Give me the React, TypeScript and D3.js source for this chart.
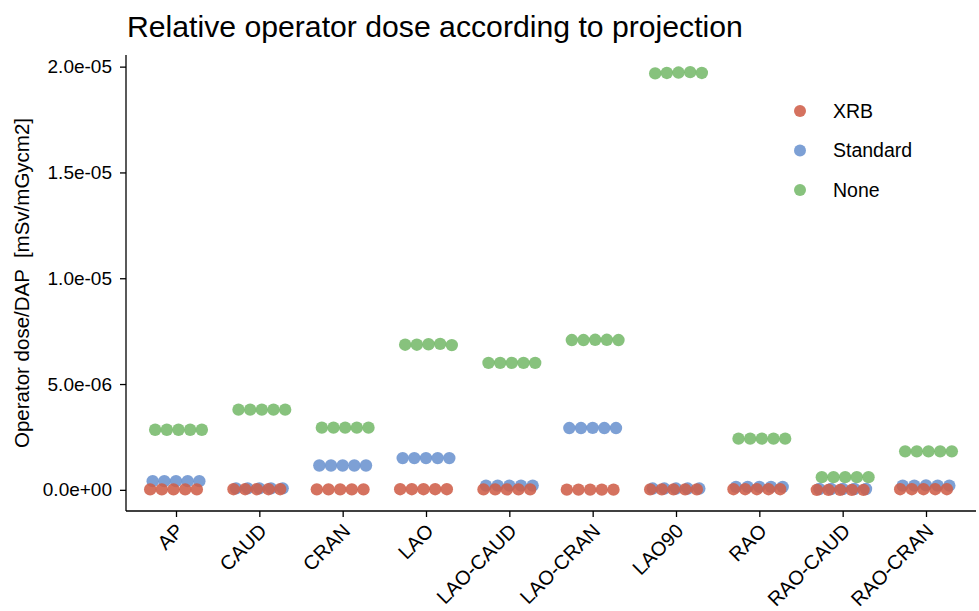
import * as d3 from "d3";
import { useEffect, useRef } from "react";

const WIDTH = 979;
const HEIGHT = 611;
const MARGIN = { top: 55, right: 3, bottom: 100, left: 126 };

const projections = [
  "AP", "CAUD", "CRAN", "LAO", "LAO-CAUD",
  "LAO-CRAN", "LAO90", "RAO", "RAO-CAUD", "RAO-CRAN",
];
const series = ["XRB", "Standard", "None"];
const colors = ["#CF5E49", "#6B93CF", "#76B96B"];

// five repeated measurements per projection, in 1e-6 mSv/mGycm2
const xrbValues = [
  [0.02, 0.02, 0.02, 0.02, 0.02],
  [0.03, 0.03, 0.03, 0.03, 0.03],
  [0.02, 0.02, 0.02, 0.02, 0.02],
  [0.03, 0.03, 0.03, 0.03, 0.03],
  [0.02, 0.02, 0.02, 0.02, 0.02],
  [0.01, 0.01, 0.01, 0.01, 0.01],
  [0.02, 0.02, 0.02, 0.02, 0.02],
  [0.03, 0.03, 0.03, 0.03, 0.03],
  [0.0, 0.0, 0.0, 0.0, 0.0],
  [0.03, 0.03, 0.03, 0.03, 0.03],
];
const standardValues = [
  [0.41, 0.41, 0.41, 0.41, 0.41],
  [0.07, 0.07, 0.07, 0.07, 0.07],
  [1.15, 1.15, 1.15, 1.15, 1.15],
  [1.5, 1.5, 1.5, 1.5, 1.5],
  [0.2, 0.2, 0.2, 0.2, 0.2],
  [2.92, 2.92, 2.93, 2.92, 2.92],
  [0.06, 0.06, 0.06, 0.06, 0.06],
  [0.14, 0.14, 0.14, 0.14, 0.14],
  [0.04, 0.04, 0.04, 0.04, 0.04],
  [0.2, 0.2, 0.21, 0.2, 0.2],
];
const noneValues = [
  [2.84, 2.84, 2.84, 2.84, 2.84],
  [3.79, 3.79, 3.79, 3.79, 3.79],
  [2.94, 2.94, 2.94, 2.94, 2.94],
  [6.86, 6.86, 6.88, 6.9, 6.84],
  [6.0, 6.0, 6.0, 6.0, 6.0],
  [7.08, 7.08, 7.09, 7.09, 7.08],
  [19.68, 19.7, 19.72, 19.74, 19.7],
  [2.42, 2.42, 2.42, 2.42, 2.42],
  [0.6, 0.6, 0.6, 0.6, 0.6],
  [1.82, 1.82, 1.82, 1.82, 1.82],
];
const yTicks = [0, 5e-6, 1e-5, 1.5e-5, 2e-5];
const yTickLabels = ["0.0e+00", "5.0e-06", "1.0e-05", "1.5e-05", "2.0e-05"];

const allSeries = [xrbValues, standardValues, noneValues];

interface Pt {
  cat: number;
  s: number;
  rep: number;
  value: number;
}

export default function App() {
  const ref = useRef<SVGSVGElement | null>(null);

  useEffect(() => {
    if (!ref.current) return;
    const svg = d3.select(ref.current);
    svg.selectAll("*").remove();

    const innerW = WIDTH - MARGIN.left - MARGIN.right;
    const innerH = HEIGHT - MARGIN.top - MARGIN.bottom;
    const font = "'Liberation Sans', Arial, sans-serif";

    const x = d3.scaleLinear().domain([-0.6, projections.length - 0.4]).range([0, innerW]);
    const y = d3.scaleLinear().domain([-1e-6, 2.055e-5]).range([innerH, 0]);
    const dodge = d3.scalePoint<number>().domain([0, 1, 2]).range([-0.03, 0.03]);
    const repOffset = d3.scalePoint<number>().domain([0, 1, 2, 3, 4]).range([-0.28, 0.28]);

    const pts: Pt[] = [];
    // draw None first, XRB last (on top)
    [2, 1, 0].forEach((s) => {
      allSeries[s].forEach((vals, cat) => {
        vals.forEach((v, rep) => pts.push({ cat, s, rep, value: v * 1e-6 }));
      });
    });

    svg
      .append("text")
      .attr("x", 127)
      .attr("y", 37)
      .attr("font-family", font)
      .attr("font-size", 30.2)
      .attr("fill", "#000")
      .text("Relative operator dose according to projection");

    const g = svg.append("g").attr("transform", `translate(${MARGIN.left},${MARGIN.top})`);

    g.append("g")
      .selectAll("circle")
      .data(pts)
      .join("circle")
      .attr("cx", (d) => x(d.cat + (dodge(d.s) ?? 0) + (repOffset(d.rep) ?? 0)))
      .attr("cy", (d) => y(d.value))
      .attr("r", 6.2)
      .attr("fill", (d) => colors[d.s])
      .attr("fill-opacity", 0.88);

    const yAxis = g
      .append("g")
      .call(
        d3
          .axisLeft(y)
          .tickValues(yTicks)
          .tickFormat((_, i) => yTickLabels[i])
          .tickSize(6)
          .tickPadding(8)
      );
    yAxis.select(".domain").attr("stroke-width", 1.3).attr("d", `M0,0V${innerH}`);
    yAxis.selectAll(".tick line").attr("stroke-width", 1.3);
    yAxis
      .selectAll(".tick text")
      .attr("font-family", font)
      .attr("font-size", 19)
      .attr("fill", "#000");

    const xAxis = g
      .append("g")
      .attr("transform", `translate(0,${innerH})`)
      .call(
        d3
          .axisBottom(x)
          .tickValues(d3.range(projections.length))
          .tickFormat((_, i) => projections[i])
          .tickSize(6)
      );
    xAxis.select(".domain").attr("stroke-width", 1.3).attr("d", `M0,0H${innerW}`);
    xAxis.selectAll(".tick line").attr("stroke-width", 1.3);
    xAxis
      .selectAll<SVGTextElement, unknown>(".tick text")
      .attr("font-family", font)
      .attr("font-size", 20)
      .attr("fill", "#000")
      .attr("text-anchor", "end")
      .attr("dy", null)
      .attr("y", 0)
      .attr("dominant-baseline", "hanging")
      .attr("transform", "translate(-2,11) rotate(-45)");

    svg
      .append("text")
      .attr("transform", `translate(29,${MARGIN.top + innerH / 2}) rotate(-90)`)
      .attr("text-anchor", "middle")
      .attr("font-family", font)
      .attr("font-size", 20.5)
      .attr("fill", "#000")
      .attr("xml:space", "preserve")
      .text("Operator dose/DAP  [mSv/mGycm2]");

    const legend = svg.append("g").attr("transform", "translate(800,111)");
    const items = legend
      .selectAll("g")
      .data(series)
      .join("g")
      .attr("transform", (_, i) => `translate(0,${i * 39.5})`);
    items
      .append("circle")
      .attr("r", 6)
      .attr("fill", (_, i) => colors[i])
      .attr("fill-opacity", 0.88);
    items
      .append("text")
      .attr("x", 33)
      .attr("dy", "0.35em")
      .attr("font-family", font)
      .attr("font-size", 19.5)
      .attr("fill", "#000")
      .text((d) => d);
  }, []);

  return (
    <svg
      ref={ref}
      width={WIDTH}
      height={HEIGHT}
      style={{ position: "absolute", left: 0, top: 0, background: "#fff" }}
    />
  );
}
